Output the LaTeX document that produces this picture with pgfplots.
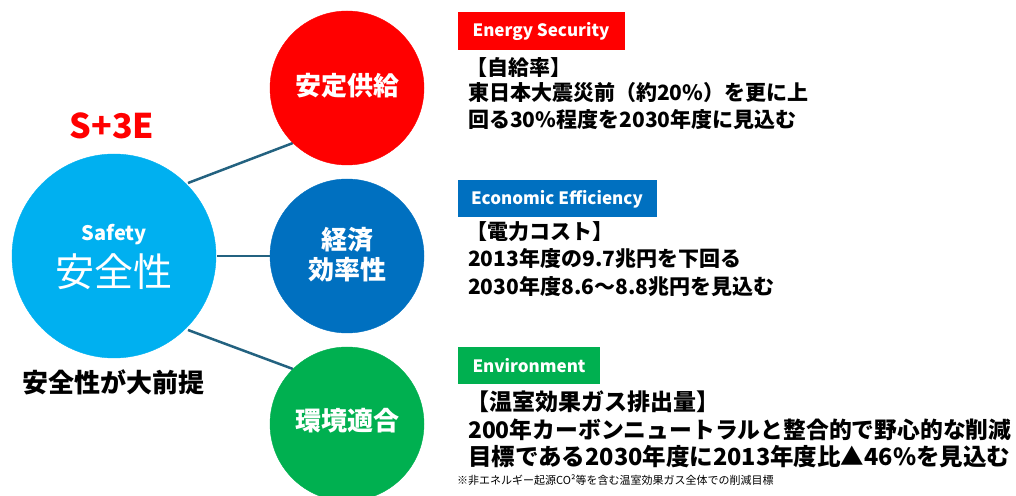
\documentclass[border=0pt]{standalone}
\usepackage{pgfplots}
\pgfplotsset{compat=1.18}
\usepackage{fontspec}
\setmainfont{Noto Sans CJK JP}
\definecolor{cRed}{RGB}{255,0,0}
\definecolor{cSky}{RGB}{0,176,240}
\definecolor{cBlue}{RGB}{0,112,192}
\definecolor{cGreen}{RGB}{0,176,80}
\definecolor{cLine}{RGB}{35,98,128}
\begin{document}
\begin{tikzpicture}
\begin{axis}[
    name=ax,
    set layers,
    width=1016pt, height=495pt,
    scale only axis,
    xmin=0, xmax=1016,
    ymin=0, ymax=495,
    y dir=reverse,
    hide axis,
    clip=false,
]
% connecting lines
\addplot[cLine, line width=2.5pt] coordinates {(188,183) (293,143)};
\addplot[cLine, line width=2.5pt] coordinates {(217,256) (272,256)};
\addplot[cLine, line width=2.5pt] coordinates {(188,330) (293,369)};

% circles (centre, radius in px)
\addplot[only marks, color=cSky, mark=*, mark size=102pt, mark options={fill=cSky}] coordinates {(114,256)};
\addplot[only marks, color=cRed, mark=*, mark size=77pt, mark options={fill=cRed}] coordinates {(347,88)};
\addplot[only marks, color=cBlue, mark=*, mark size=77pt, mark options={fill=cBlue}] coordinates {(347,256)};
\addplot[only marks, color=cGreen, mark=*, mark size=77pt, mark options={fill=cGreen}] coordinates {(347,424)};

% heading boxes
\addplot[draw=none, fill=cRed] coordinates {(458,12) (625,12) (625,50) (458,50)} -- cycle;
\addplot[draw=none, fill=cBlue] coordinates {(458,180) (657,180) (657,217) (458,217)} -- cycle;
\addplot[draw=none, fill=cGreen] coordinates {(458,347) (600,347) (600,384) (458,384)} -- cycle;

\begin{pgfonlayer}{axis foreground}
% left side text
\node[text=cRed, font=\fontsize{34}{36}\selectfont\bfseries] at (axis cs:112,126) {S+3E};
\node[text=white, font=\fontsize{20}{22}\selectfont\bfseries] at (axis cs:114,235) {Safety};
\node[text=white, font=\fontsize{39}{41}\selectfont] at (axis cs:114,272) {安全性};
\node[font=\fontsize{26}{28}\selectfont\bfseries] at (axis cs:113,382) {安全性が大前提};

% circle labels
\node[text=white, font=\fontsize{26}{28}\selectfont\bfseries] at (axis cs:347,86) {安定供給};
\node[text=white, font=\fontsize{26}{28}\selectfont\bfseries] at (axis cs:347,240) {経済};
\node[text=white, font=\fontsize{26}{28}\selectfont\bfseries] at (axis cs:347,270) {効率性};
\node[text=white, font=\fontsize{26}{28}\selectfont\bfseries] at (axis cs:347,421) {環境適合};

% box labels
\node[text=white, font=\fontsize{17}{19}\selectfont\bfseries] at (axis cs:541,31) {Energy Security};
\node[text=white, font=\fontsize{17}{19}\selectfont\bfseries] at (axis cs:557,199) {Economic Efficiency};
\node[text=white, font=\fontsize{17}{19}\selectfont\bfseries] at (axis cs:529,366) {Environment};

% right side text
\begin{scope}[every node/.style={anchor=west, inner sep=0pt, font=\fontsize{21}{23}\selectfont\bfseries}]
\node at (axis cs:466,68) {【自給率】};
\node at (axis cs:468,93) {東日本大震災前（約20\%）を更に上};
\node at (axis cs:468,120) {回る30\%程度を2030年度に見込む};
\node at (axis cs:466,232) {【電力コスト】};
\node at (axis cs:468,259) {2013年度の9.7兆円を下回る};
\node at (axis cs:468,287) {2030年度8.6～8.8兆円を見込む};
\end{scope}
\begin{scope}[every node/.style={anchor=west, inner sep=0pt, font=\fontsize{23}{25}\selectfont\bfseries}]
\node at (axis cs:466,402) {【温室効果ガス排出量】};
\node[font=\fontsize{22.8}{25}\selectfont\bfseries] at (axis cs:468,430) {200年カーボンニュートラルと整合的で野心的な削減};
\node[font=\fontsize{23.5}{25}\selectfont\bfseries] at (axis cs:468,457) {目標である2030年度に2013年度比▲46\%を見込む};
\end{scope}
\node[anchor=west, inner sep=0pt, font=\fontsize{11}{12}\selectfont] at (axis cs:457,480) {※非エネルギー起源CO²等を含む温室効果ガス全体での削減目標};
\end{pgfonlayer}
\end{axis}
\pgfresetboundingbox
\path (ax.south west) rectangle (ax.north east);
\end{tikzpicture}
\end{document}
